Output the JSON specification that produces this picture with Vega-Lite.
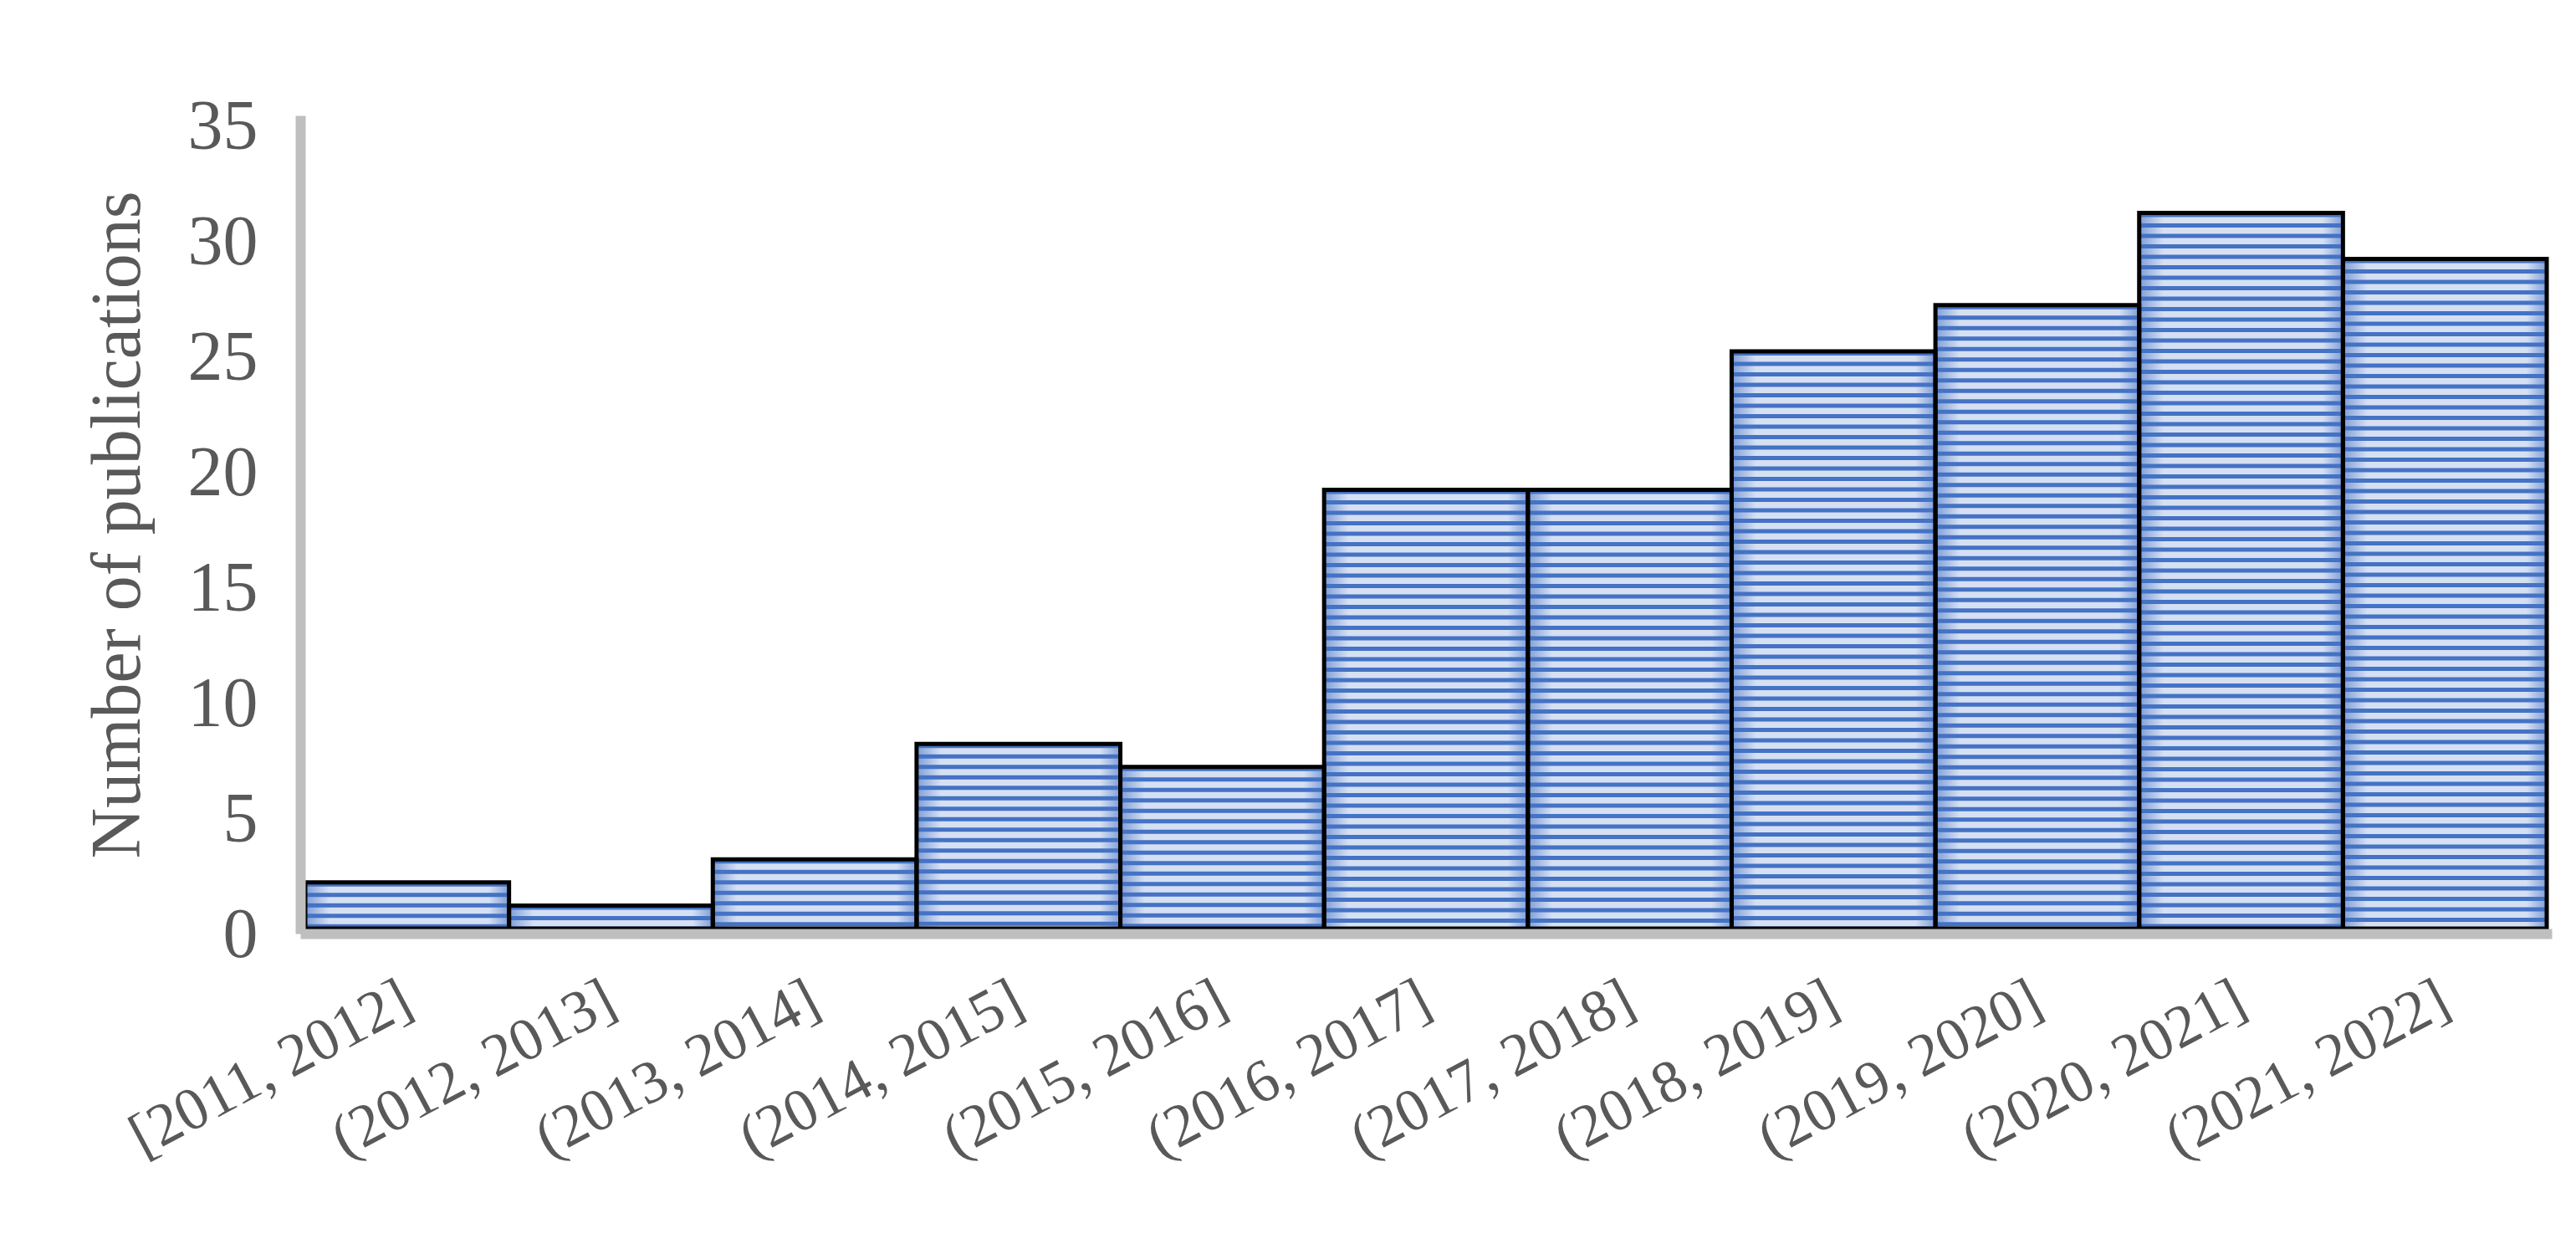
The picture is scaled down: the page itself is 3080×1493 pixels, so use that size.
{
  "$schema": "https://vega.github.io/schema/vega-lite/v6.json",
  "autosize": {"type": "none"},
  "padding": {"left": 365, "top": 144, "right": 35, "bottom": 383},
  "width": 2680,
  "height": 966,
  "background": "white",
  "config": {
    "view": {"stroke": null},
    "font": "Liberation Serif"
  },
  "data": {
    "values": [
      {"bin": "[2011, 2012]", "count": 2},
      {"bin": "(2012, 2013]", "count": 1},
      {"bin": "(2013, 2014]", "count": 3},
      {"bin": "(2014, 2015]", "count": 8},
      {"bin": "(2015, 2016]", "count": 7},
      {"bin": "(2016, 2017]", "count": 19},
      {"bin": "(2017, 2018]", "count": 19},
      {"bin": "(2018, 2019]", "count": 25},
      {"bin": "(2019, 2020]", "count": 27},
      {"bin": "(2020, 2021]", "count": 31},
      {"bin": "(2021, 2022]", "count": 29}
    ]
  },
  "encoding": {
    "x": {
      "field": "bin",
      "type": "nominal",
      "sort": null,
      "scale": {"paddingInner": 0, "paddingOuter": 0},
      "axis": {
        "title": null,
        "zindex": 1,
        "offset": 6,
        "domainColor": "#BFBFBF",
        "domainWidth": 12,
        "domainCap": "square",
        "ticks": false,
        "tickSize": 0,
        "labelAngle": -28,
        "labelAlign": "right",
        "labelBaseline": "middle",
        "labelPadding": 74,
        "labelLimit": 0,
        "labelOverlap": false,
        "labelFontSize": 72,
        "labelColor": "#595959",
        "labelFont": "Liberation Serif"
      }
    },
    "y": {
      "field": "count",
      "type": "quantitative",
      "scale": {"domain": [0, 35], "nice": false},
      "axis": {
        "title": "Number of publications",
        "titleFontSize": 84,
        "titleFontWeight": "normal",
        "titleColor": "#595959",
        "titleFont": "Liberation Serif",
        "titlePadding": 40,
        "zindex": 1,
        "offset": 6,
        "values": [0, 5, 10, 15, 20, 25, 30, 35],
        "grid": false,
        "domainColor": "#BFBFBF",
        "domainWidth": 12,
        "domainCap": "square",
        "ticks": false,
        "tickSize": 0,
        "labelPadding": 51,
        "labelOffset": 8,
        "labelFontSize": 84,
        "labelColor": "#595959",
        "labelFont": "Liberation Serif"
      }
    }
  },
  "layer": [
    {
      "mark": {"type": "bar", "fill": "#4472C4", "strokeWidth": 0}
    },
    {
      "mark": {
        "type": "rule",
        "stroke": "#D6E0F3",
        "strokeWidth": 243,
        "strokeCap": "butt",
        "strokeDash": [7.5, 5],
        "strokeDashOffset": 7.5
      },
      "encoding": {
        "y2": {"datum": 0}
      }
    },
    {
      "mark": {
        "type": "bar",
        "strokeWidth": 0,
        "fill": {
          "gradient": "linear",
          "x1": 0, "y1": 0, "x2": 1, "y2": 0,
          "stops": [
            {"offset": 0, "color": "rgba(68,114,196,0.6)"},
            {"offset": 0.12, "color": "rgba(68,114,196,0)"},
            {"offset": 0.9, "color": "rgba(68,114,196,0)"},
            {"offset": 1, "color": "rgba(68,114,196,0.6)"}
          ]
        }
      }
    },
    {
      "mark": {
        "type": "bar",
        "fillOpacity": 0,
        "fill": "white",
        "stroke": "black",
        "strokeWidth": 5
      }
    }
  ]
}
